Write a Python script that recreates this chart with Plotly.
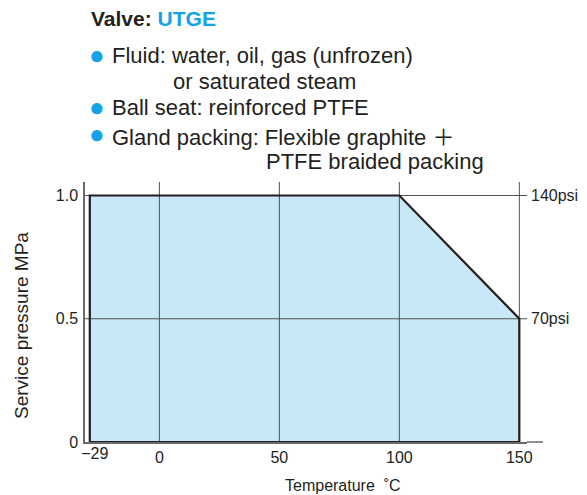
import plotly.graph_objects as go

# ---- data ----
temperature_c = [-29, -29, 100, 150, 150, -29]
pressure_mpa = [0, 1.0, 1.0, 0.5, 0, 0]

x_tick_vals = [0, 50, 100, 150]
x_tick_text = ["0", "50", "100", "150"]
x_low_tick_vals = [-29]
x_low_tick_text = ["\u221229"]
y_tick_vals = [0, 0.5, 1.0]
y_tick_text = ["0", "0.5", "1.0"]
psi_tick_vals = [0.5, 1.0]
psi_tick_text = ["70psi", "140psi"]

title_black = "Valve: "
title_blue = "UTGE"
bullet_lines = [
    "Fluid: water, oil, gas (unfrozen)",
    "Ball seat: reinforced PTFE",
    "Gland packing: Flexible graphite <span style='font-family:Noto Sans CJK JP'>\uff0b</span>",
]
continuation_lines = ["or saturated steam", "PTFE braided packing"]

# ---- layout constants ----
W, H = 587, 495
ML, MR, MT, MB = 85, 60, 182, 53
X_RANGE = [-31, 153.2]
Y_RANGE = [0, 1.0548]
FONT = "Liberation Sans, Arial, Helvetica, sans-serif"
BLUE = "#13a3e6"
FILL = "#c8e8f8"
GRID = "#505050"
AXIS = "#6a6a6a"
DARK = "#231f20"

pw = W - ML - MR
ph = H - MT - MB


def px(xp):
    return (xp - ML) / pw


def py(yp):
    return (H - MB - yp) / ph


fig = go.Figure()

# filled region (no outline)
fig.add_trace(go.Scatter(
    x=temperature_c, y=pressure_mpa, fill="toself", fillcolor=FILL,
    mode="none", hoverinfo="skip", showlegend=False))

# grid lines drawn above the fill
gx, gy = [], []
for v in x_tick_vals:
    gx += [v, v, None]
    gy += [Y_RANGE[0], Y_RANGE[1], None]
for v in y_tick_vals[1:]:
    gx += [X_RANGE[0], X_RANGE[1], None]
    gy += [v, v, None]
fig.add_trace(go.Scatter(
    x=gx, y=gy, mode="lines", line=dict(color=GRID, width=1),
    hoverinfo="skip", showlegend=False, cliponaxis=True))

# outline
fig.add_trace(go.Scatter(
    x=temperature_c, y=pressure_mpa, mode="lines",
    line=dict(color=DARK, width=2.2), hoverinfo="skip", showlegend=False))

# invisible trace for right psi axis
fig.add_trace(go.Scatter(
    x=[X_RANGE[1], X_RANGE[1]], y=psi_tick_vals, yaxis="y2", mode="none",
    hoverinfo="skip", showlegend=False))
# invisible trace for lower -29 tick axis
fig.add_trace(go.Scatter(
    x=x_low_tick_vals, y=[0], xaxis="x2", mode="none",
    hoverinfo="skip", showlegend=False))

tickfont = dict(family=FONT, size=16, color="#231f20")

fig.update_layout(
    width=W, height=H,
    margin=dict(l=ML, r=MR, t=MT, b=MB, pad=0, autoexpand=False),
    paper_bgcolor="white", plot_bgcolor="white",
    font=dict(family=FONT, color="#231f20"),
    xaxis=dict(range=X_RANGE, tickmode="array", tickvals=x_tick_vals,
               ticktext=x_tick_text, showgrid=False, zeroline=False,
               showline=True, linecolor=AXIS, linewidth=1.5,
               ticks="", tickfont=tickfont, fixedrange=True),
    xaxis2=dict(range=X_RANGE, overlaying="x", side="bottom", anchor="y",
                tickmode="array", tickvals=x_low_tick_vals,
                ticktext=x_low_tick_text, showgrid=False, zeroline=False,
                showline=False, ticks="", tickfont=tickfont,
                ticklabelshift=5, fixedrange=True),
    yaxis=dict(range=Y_RANGE, tickmode="array", tickvals=y_tick_vals,
               ticktext=y_tick_text, showgrid=False, zeroline=False,
               showline=True, linecolor=AXIS, linewidth=1.5,
               ticks="", tickfont=tickfont, ticklabelstandoff=2,
               fixedrange=True),
    yaxis2=dict(range=Y_RANGE, overlaying="y", side="right", anchor="x",
                tickmode="array", tickvals=psi_tick_vals,
                ticktext=psi_tick_text, showgrid=False, zeroline=False,
                showline=False, ticks="", tickfont=tickfont,
                ticklabelstandoff=3, fixedrange=True),
)

# extension of x-axis line to the right
fig.add_shape(type="line", xref="paper", yref="paper",
              x0=1, x1=px(543), y0=0, y1=0,
              line=dict(color=AXIS, width=1.5))

ann = []
# title
ann.append(dict(x=px(89), y=py(18), xref="paper", yref="paper",
                xanchor="left", yanchor="middle", showarrow=False,
                text=f"<b>{title_black}<span style='color:{BLUE}'>{title_blue}</span></b>",
                font=dict(family=FONT, size=21, color="#231f20")))
bullet_y = [56, 108, 135]
for t, yy in zip(bullet_lines, bullet_y):
    ann.append(dict(x=px(97), y=py(yy - 1), xref="paper", yref="paper",
                    xanchor="center", yanchor="middle", showarrow=False,
                    text="\u25cf", font=dict(family=FONT, size=26, color=BLUE)))
    ann.append(dict(x=px(110), y=py(yy), xref="paper", yref="paper",
                    xanchor="left", yanchor="middle", showarrow=False,
                    text=t, font=dict(family=FONT, size=22, color="#231f20")))
for t, xx, yy in zip(continuation_lines, [171, 264], [81, 161.5]):
    ann.append(dict(x=px(xx), y=py(yy), xref="paper", yref="paper",
                    xanchor="left", yanchor="middle", showarrow=False,
                    text=t, font=dict(family=FONT, size=22, color="#231f20")))
# axis titles
ann.append(dict(x=px(343), y=py(485), xref="paper", yref="paper",
                xanchor="center", yanchor="middle", showarrow=False,
                text="Temperature\u00a0\u00a0\u02daC",
                font=dict(family=FONT, size=16, color="#231f20")))
ann.append(dict(x=px(21), y=py(326), xref="paper", yref="paper",
                xanchor="center", yanchor="middle", showarrow=False,
                textangle=-90, text="Service pressure MPa",
                font=dict(family=FONT, size=19, color="#231f20")))
fig.update_layout(annotations=ann)

fig.write_html(
    "out.html",
    config={"displayModeBar": False},
    post_script="document.body.style.margin='0';document.body.style.padding='0';",
)
